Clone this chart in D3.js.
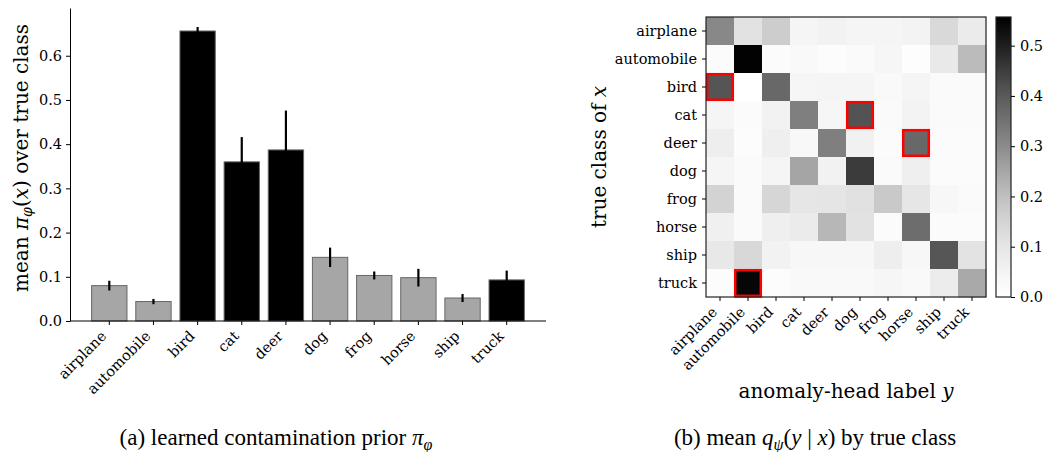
<!DOCTYPE html>
<html>
<head>
<meta charset="utf-8">
<script src="https://cdn.jsdelivr.net/npm/d3@7"></script>
<style>
  html, body { margin: 0; padding: 0; background: #fff; }
  svg { display: block; }
  text { font-family: "DejaVu Serif", serif; fill: #000; }
</style>
</head>
<body>
<svg id="chart" width="1045" height="452"></svg>
<script>
// ---------------- data ----------------
const categories = ["airplane","automobile","bird","cat","deer","dog","frog","horse","ship","truck"];
// panel (a): mean contamination prior per true class, with error half-widths
const priorMean = [0.080, 0.044, 0.656, 0.360, 0.387, 0.144, 0.103, 0.098, 0.052, 0.093];
const priorErr  = [0.011, 0.006, 0.009, 0.056, 0.089, 0.022, 0.009, 0.020, 0.009, 0.021];
const contaminated = ["bird", "cat", "deer", "truck"];
const priorTicks = [0.0, 0.1, 0.2, 0.3, 0.4, 0.5, 0.6];
// panel (b): mean q(y|x), rows = true class, columns = anomaly-head label
const qRowAirplane   = [0.307, 0.112, 0.169, 0.046, 0.056, 0.046, 0.046, 0.051, 0.136, 0.081];
const qRowAutomobile = [0.019, 0.553, 0.019, 0.028, 0.014, 0.023, 0.042, 0.009, 0.090, 0.210];
const qRowBird       = [0.408, 0.000, 0.372, 0.042, 0.046, 0.046, 0.028, 0.046, 0.023, 0.023];
const qRowCat        = [0.046, 0.019, 0.056, 0.325, 0.042, 0.412, 0.023, 0.051, 0.023, 0.023];
const qRowDeer       = [0.072, 0.014, 0.069, 0.032, 0.325, 0.060, 0.019, 0.372, 0.019, 0.019];
const qRowDog        = [0.046, 0.023, 0.046, 0.251, 0.056, 0.453, 0.023, 0.069, 0.019, 0.019];
const qRowFrog       = [0.154, 0.023, 0.144, 0.100, 0.102, 0.114, 0.178, 0.100, 0.037, 0.023];
const qRowHorse      = [0.065, 0.023, 0.069, 0.081, 0.217, 0.112, 0.019, 0.361, 0.019, 0.019];
const qRowShip       = [0.093, 0.141, 0.056, 0.037, 0.037, 0.037, 0.072, 0.037, 0.406, 0.109];
const qRowTruck      = [0.014, 0.546, 0.014, 0.028, 0.028, 0.028, 0.042, 0.028, 0.078, 0.245];
const qRows = [qRowAirplane, qRowAutomobile, qRowBird, qRowCat, qRowDeer, qRowDog, qRowFrog, qRowHorse, qRowShip, qRowTruck];
const highlights = [["bird","airplane"], ["cat","dog"], ["deer","horse"], ["truck","automobile"]];
const colorMax = 0.557;
const cbarTicks = [0.0, 0.1, 0.2, 0.3, 0.4, 0.5];

// ---------------- layout ----------------
const svg = d3.select("#chart");
svg.append("rect").attr("width", 1045).attr("height", 452).attr("fill", "#fff");
const TICK_FS = 14.5, LABEL_FS = 20;
const CAP_FONT = '"Liberation Serif", "Times New Roman", Tinos, serif';

// ===== panel (a) =====
const A = {x0: 70, x1: 546, y0: 8, y1: 321};
const xA = d3.scaleBand().domain(categories).range([A.x0, A.x1]).paddingInner(0.2).paddingOuter(0.49);
const yA = d3.scaleLinear().domain([0, 0.708]).range([A.y1, A.y0]);
const gA = svg.append("g");

gA.selectAll("rect.bar").data(categories).join("rect")
  .attr("class", "bar")
  .attr("x", d => xA(d))
  .attr("width", xA.bandwidth())
  .attr("y", (d, i) => yA(priorMean[i]))
  .attr("height", (d, i) => yA(0) - yA(priorMean[i]))
  .attr("fill", d => contaminated.includes(d) ? "#000" : "#a6a6a6")
  .attr("stroke", "#666").attr("stroke-width", 1);

gA.selectAll("line.err").data(categories).join("line")
  .attr("class", "err")
  .attr("x1", d => xA(d) + xA.bandwidth() / 2)
  .attr("x2", d => xA(d) + xA.bandwidth() / 2)
  .attr("y1", (d, i) => yA(priorMean[i] - priorErr[i]))
  .attr("y2", (d, i) => yA(priorMean[i] + priorErr[i]))
  .attr("stroke", "#000").attr("stroke-width", 2.2);

const yAxisA = gA.append("g").attr("transform", `translate(${A.x0},0)`)
  .call(d3.axisLeft(yA).tickValues(priorTicks).tickFormat(d3.format(".1f")).tickSize(4).tickSizeOuter(0).tickPadding(4));
const xAxisA = gA.append("g").attr("transform", `translate(0,${A.y1})`)
  .call(d3.axisBottom(xA).tickSize(4).tickSizeOuter(0).tickFormat(""));
xAxisA.select(".domain").attr("d", `M${A.x0},0H${A.x1}`);
[yAxisA, xAxisA].forEach(g => {
  g.selectAll("path,line").attr("stroke", "#000").attr("stroke-width", 1);
  g.selectAll("text").style("font-family", "DejaVu Serif").style("font-size", TICK_FS + "px");
});
gA.selectAll("text.xlab").data(categories).join("text")
  .attr("class", "xlab")
  .attr("transform", d => `translate(${xA(d) + xA.bandwidth() / 2 - 2},${A.y1 + 16}) rotate(-45)`)
  .attr("text-anchor", "end")
  .style("font-size", TICK_FS + "px")
  .text(d => d);

// y label
const ylabA = gA.append("text")
  .attr("transform", `translate(28,158) rotate(-90)`)
  .attr("text-anchor", "middle").style("font-size", LABEL_FS + "px");
ylabA.append("tspan").text("mean ");
ylabA.append("tspan").style("font-style", "italic").text("π");
ylabA.append("tspan").style("font-style", "italic").style("font-size", "14px").attr("dy", 4).text("φ");
ylabA.append("tspan").attr("dy", -4).text("(");
ylabA.append("tspan").style("font-style", "italic").text("x");
ylabA.append("tspan").text(") over true class");

// caption (a)
const capA = svg.append("text").attr("class", "caption")
  .attr("x", 276).attr("y", 445).attr("text-anchor", "middle")
  .style("font-family", CAP_FONT).style("font-size", "23px");
capA.append("tspan").text("(a) learned contamination prior ");
capA.append("tspan").style("font-style", "italic").text("π");
capA.append("tspan").style("font-style", "italic").style("font-size", "16px").attr("dy", 5).text("φ");

// ===== panel (b) =====
const B = {x0: 706, x1: 986, y0: 17, y1: 297};
const xB = d3.scaleBand().domain(categories).range([B.x0, B.x1]);
const yB = d3.scaleBand().domain(categories).range([B.y0, B.y1]);
const color = d3.scaleSequential(d3.interpolateGreys).domain([0, colorMax]);
const gB = svg.append("g");

const cells = [];
qRows.forEach((row, r) => row.forEach((v, c) => cells.push({row: categories[r], col: categories[c], v})));
gB.selectAll("rect.cell").data(cells).join("rect")
  .attr("class", "cell")
  .attr("x", d => xB(d.col)).attr("y", d => yB(d.row))
  .attr("width", xB.bandwidth() + 0.5).attr("height", yB.bandwidth() + 0.5)
  .attr("fill", d => color(d.v));

gB.selectAll("rect.hl").data(highlights).join("rect")
  .attr("class", "hl")
  .attr("x", d => xB(d[1]) + 1.2).attr("y", d => yB(d[0]) + 1.2)
  .attr("width", xB.bandwidth() - 2.4).attr("height", yB.bandwidth() - 2.4)
  .attr("fill", "none").attr("stroke", "#ff0000").attr("stroke-width", 2.5);

gB.append("rect").attr("x", B.x0).attr("y", B.y0)
  .attr("width", B.x1 - B.x0).attr("height", B.y1 - B.y0)
  .attr("fill", "none").attr("stroke", "#222").attr("stroke-width", 1.2);

const yAxisB = gB.append("g").attr("transform", `translate(${B.x0},0)`)
  .call(d3.axisLeft(yB).tickSize(4).tickSizeOuter(0).tickPadding(5));
const xAxisB = gB.append("g").attr("transform", `translate(0,${B.y1})`)
  .call(d3.axisBottom(xB).tickSize(4).tickSizeOuter(0).tickFormat(""));
[yAxisB, xAxisB].forEach(g => {
  g.select(".domain").remove();
  g.selectAll("line").attr("stroke", "#000").attr("stroke-width", 1);
  g.selectAll("text").style("font-family", "DejaVu Serif").style("font-size", TICK_FS + "px");
});
gB.selectAll("text.xlab").data(categories).join("text")
  .attr("class", "xlab")
  .attr("transform", d => `translate(${xB(d) + xB.bandwidth() / 2 - 2},${B.y1 + 16}) rotate(-45)`)
  .attr("text-anchor", "end")
  .style("font-size", TICK_FS + "px")
  .text(d => d);

const ylabB = gB.append("text")
  .attr("transform", `translate(606,${(B.y0 + B.y1) / 2}) rotate(-90)`)
  .attr("text-anchor", "middle").style("font-size", LABEL_FS + "px");
ylabB.append("tspan").text("true class of ");
ylabB.append("tspan").style("font-style", "italic").text("x");

const xlabB = gB.append("text")
  .attr("x", (B.x0 + B.x1) / 2).attr("y", 398)
  .attr("text-anchor", "middle").style("font-size", LABEL_FS + "px");
xlabB.append("tspan").text("anomaly-head label ");
xlabB.append("tspan").style("font-style", "italic").text("y");

// colorbar
const C = {x0: 996, x1: 1011, y0: 17, y1: 297};
const yC = d3.scaleLinear().domain([0, colorMax]).range([C.y1, C.y0]);
const defs = svg.append("defs");
const grad = defs.append("linearGradient").attr("id", "cbar")
  .attr("x1", 0).attr("y1", 1).attr("x2", 0).attr("y2", 0);
d3.range(0, 1.0001, 0.02).forEach(t => {
  grad.append("stop").attr("offset", t).attr("stop-color", color(t * colorMax));
});
svg.append("rect").attr("x", C.x0).attr("y", C.y0)
  .attr("width", C.x1 - C.x0).attr("height", C.y1 - C.y0)
  .attr("fill", "url(#cbar)").attr("stroke", "#222").attr("stroke-width", 1.2);
const cAxis = svg.append("g").attr("transform", `translate(${C.x1},0)`)
  .call(d3.axisRight(yC).tickValues(cbarTicks).tickFormat(d3.format(".1f")).tickSize(4).tickSizeOuter(0).tickPadding(5));
cAxis.select(".domain").remove();
cAxis.selectAll("line").attr("stroke", "#000");
cAxis.selectAll("text").style("font-family", "DejaVu Serif").style("font-size", TICK_FS + "px");

// caption (b)
const capB = svg.append("text").attr("class", "caption")
  .attr("x", 815).attr("y", 445).attr("text-anchor", "middle")
  .style("font-family", CAP_FONT).style("font-size", "23px");
capB.append("tspan").text("(b) mean ");
capB.append("tspan").style("font-style", "italic").text("q");
capB.append("tspan").style("font-style", "italic").style("font-size", "16px").attr("dy", 5).text("ψ");
capB.append("tspan").attr("dy", -5).text("(");
capB.append("tspan").style("font-style", "italic").text("y");
capB.append("tspan").text(" | ");
capB.append("tspan").style("font-style", "italic").text("x");
capB.append("tspan").text(") by true class");
</script>
</body>
</html>
